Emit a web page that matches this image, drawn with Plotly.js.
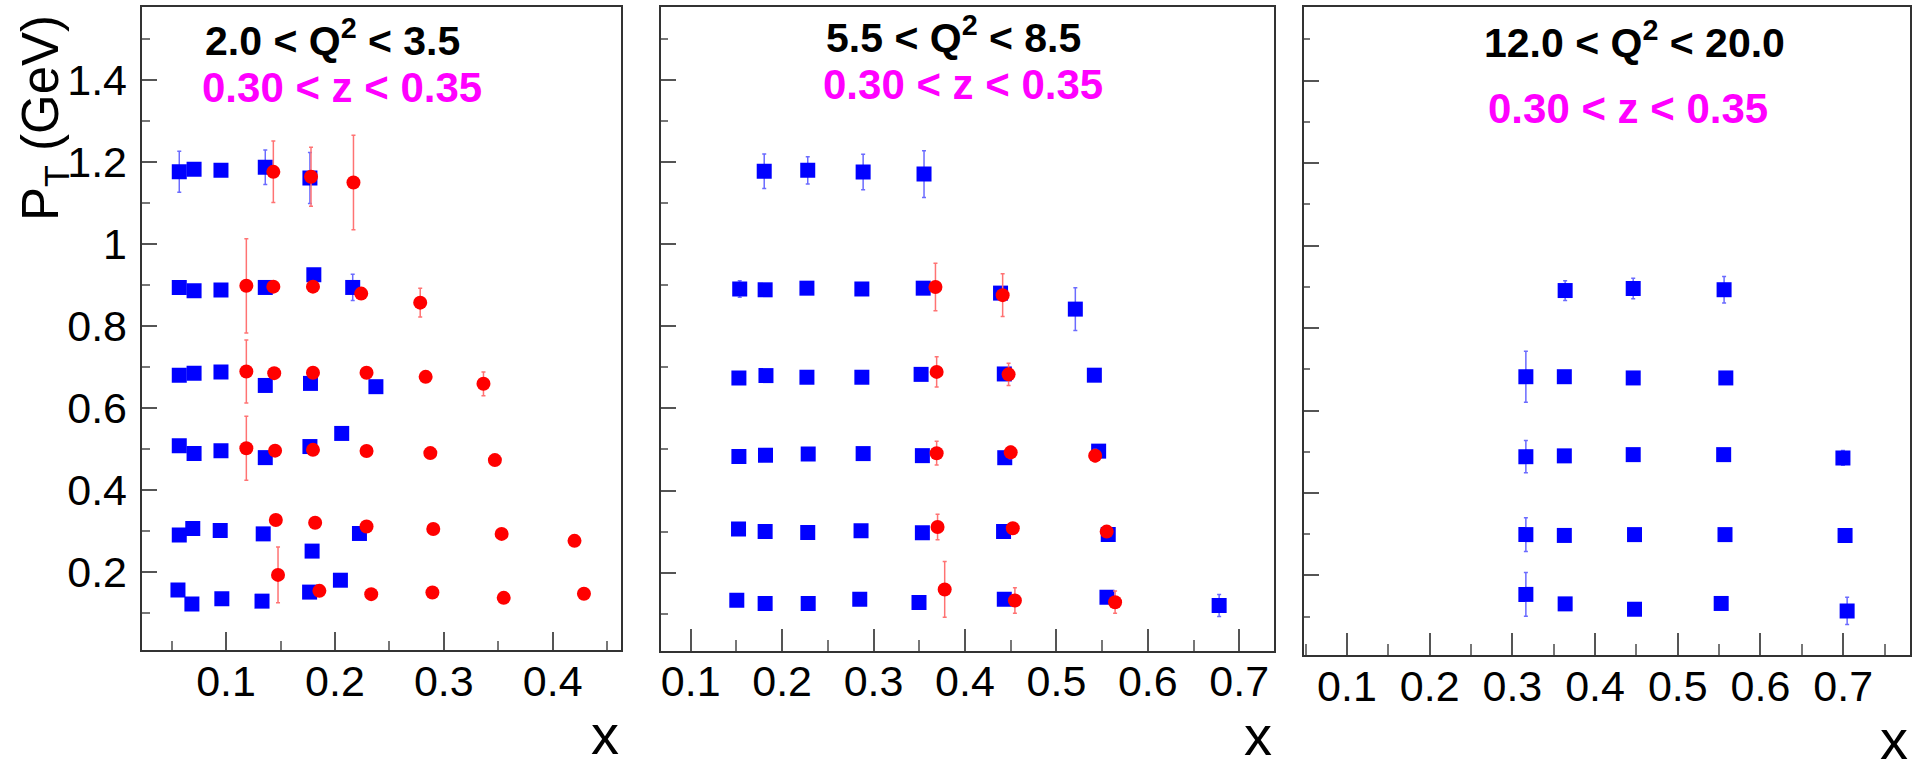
<!DOCTYPE html>
<html>
<head>
<meta charset="utf-8">
<script src="https://cdn.plot.ly/plotly-3.0.1.min.js"></script>
<style>
  body { margin: 0; background: #fff; }
  #pt-vs-x { width: 1925px; height: 775px; }
</style>
</head>
<body>
<div id="pt-vs-x"></div>
<script>
// bin 1: 2.0 < Q2 < 3.5
const q1BlueX = [0.057, 0.0706, 0.0953, 0.136, 0.177,
    0.057, 0.0706, 0.0953, 0.136, 0.1806, 0.2163,
    0.057, 0.0706, 0.0953, 0.136, 0.1775, 0.2376,
    0.057, 0.0706, 0.0953, 0.136, 0.177, 0.2062,
    0.057, 0.0694, 0.0946, 0.1341, 0.179, 0.2225,
    0.0558, 0.0686, 0.0961, 0.133, 0.1767, 0.205]
const q1BlueY = [1.176, 1.182, 1.180, 1.187, 1.161,
    0.894, 0.886, 0.888, 0.894, 0.925, 0.894,
    0.680, 0.685, 0.688, 0.655, 0.660, 0.652,
    0.508, 0.489, 0.496, 0.479, 0.506, 0.538,
    0.290, 0.306, 0.301, 0.293, 0.251, 0.294,
    0.156, 0.122, 0.135, 0.129, 0.151, 0.180]
const q1BlueErr = [0.05, 0.012, 0.01, 0.042, 0.062,
    0.01, 0.01, 0.01, 0.01, 0.012, 0.032,
    0.01, 0.01, 0.01, 0.01, 0.01, 0.01,
    0.01, 0.01, 0.01, 0.01, 0.01, 0.01,
    0.01, 0.01, 0.01, 0.01, 0.01, 0.01,
    0.01, 0.01, 0.01, 0.01, 0.01, 0.01]
const q1RedX = [0.1434, 0.178, 0.217,
    0.1186, 0.1434, 0.1798, 0.2241, 0.2783,
    0.1186, 0.1442, 0.1798, 0.229, 0.2833, 0.3364,
    0.1186, 0.145, 0.1798, 0.229, 0.2876, 0.3469,
    0.1457, 0.1818, 0.229, 0.2903, 0.3531, 0.420,
    0.1477, 0.1857, 0.2333, 0.2895, 0.355, 0.4287]
const q1RedY = [1.176, 1.164, 1.150,
    0.898, 0.896, 0.896, 0.879, 0.857,
    0.689, 0.685, 0.686, 0.686, 0.676, 0.659,
    0.502, 0.496, 0.498, 0.495, 0.490, 0.473,
    0.327, 0.320, 0.311, 0.305, 0.293, 0.276,
    0.193, 0.154, 0.146, 0.150, 0.137, 0.147]
const q1RedErr = [0.075, 0.072, 0.115,
    0.115, 0.012, 0.01, 0.01, 0.035,
    0.077, 0.01, 0.01, 0.01, 0.01, 0.029,
    0.078, 0.01, 0.01, 0.01, 0.01, 0.01,
    0.01, 0.01, 0.01, 0.01, 0.01, 0.01,
    0.068, 0.012, 0.01, 0.01, 0.01, 0.013]

// bin 2: 5.5 < Q2 < 8.5
const q2BlueX = [0.1804, 0.228, 0.2886, 0.3552,
    0.1536, 0.1814, 0.2271, 0.2872, 0.3543, 0.4389, 0.5207,
    0.1527, 0.1823, 0.2271, 0.2872, 0.352, 0.443, 0.5415,
    0.1527, 0.1818, 0.2285, 0.2886, 0.3534, 0.4435, 0.5462,
    0.1523, 0.1814, 0.228, 0.2863, 0.3534, 0.4422, 0.5567,
    0.1504, 0.1814, 0.2285, 0.2849, 0.3497, 0.443, 0.5553, 0.678]
const q2BlueY = [1.178, 1.180, 1.176, 1.171,
    0.891, 0.889, 0.893, 0.891, 0.893, 0.881, 0.842,
    0.674, 0.680, 0.676, 0.676, 0.683, 0.684, 0.681,
    0.483, 0.486, 0.489, 0.490, 0.485, 0.480, 0.496,
    0.306, 0.300, 0.298, 0.302, 0.297, 0.300, 0.293,
    0.133, 0.125, 0.125, 0.135, 0.127, 0.135, 0.140, 0.120]
const q2BlueErr = [0.042, 0.033, 0.043, 0.057,
    0.02, 0.01, 0.01, 0.01, 0.01, 0.012, 0.052,
    0.01, 0.01, 0.01, 0.01, 0.01, 0.01, 0.01,
    0.01, 0.01, 0.01, 0.01, 0.01, 0.01, 0.01,
    0.01, 0.01, 0.01, 0.01, 0.01, 0.01, 0.01,
    0.01, 0.01, 0.01, 0.01, 0.01, 0.01, 0.01, 0.027]
const q2RedX = [0.3677, 0.4412,
    0.369, 0.4477,
    0.369, 0.450, 0.5424,
    0.370, 0.4523, 0.555,
    0.3778, 0.4546, 0.5642]
const q2RedY = [0.896, 0.876,
    0.689, 0.683,
    0.491, 0.493, 0.485,
    0.311, 0.308, 0.300,
    0.159, 0.132, 0.128]
const q2RedErr = [0.058, 0.052,
    0.037, 0.027,
    0.029, 0.015, 0.015,
    0.031, 0.013, 0.014,
    0.068, 0.031, 0.027]

// bin 3: 12.0 < Q2 < 20.0
const q3BlueX = [0.3638, 0.4461, 0.556,
    0.3163, 0.3628, 0.4461, 0.5581,
    0.3163, 0.3628, 0.4461, 0.5555, 0.6997,
    0.3163, 0.3628, 0.4477, 0.5571, 0.7023,
    0.3163, 0.3638, 0.4477, 0.5525, 0.7048]
const q3BlueY = [0.891, 0.896, 0.893,
    0.682, 0.682, 0.679, 0.679,
    0.488, 0.490, 0.493, 0.493, 0.485,
    0.299, 0.297, 0.299, 0.299, 0.297,
    0.154, 0.131, 0.118, 0.132, 0.114]
const q3BlueErr = [0.024, 0.025, 0.032,
    0.062, 0.01, 0.01, 0.01,
    0.039, 0.01, 0.01, 0.01, 0.018,
    0.041, 0.01, 0.01, 0.01, 0.014,
    0.053, 0.01, 0.01, 0.01, 0.033]

const q2Labels = ['2.0 &lt; Q<sup>2</sup> &lt; 3.5', '5.5 &lt; Q<sup>2</sup> &lt; 8.5', '12.0 &lt; Q<sup>2</sup> &lt; 20.0']
const zLabel = '0.30 &lt; z &lt; 0.35'

const W = 1925, H = 775
const px = v => v / W
const py = v => 1 - v / H

function series(x, y, err, kind, axis) {
    const blue = kind === 'blue'
    return {
        type: 'scatter',
        mode: 'markers',
        x: x,
        y: y,
        xaxis: 'x' + axis,
        yaxis: 'y' + axis,
        marker: {
            symbol: blue ? 'square' : 'circle',
            size: blue ? 15 : 14,
            color: blue ? '#0000ff' : '#ff0000',
            line: {width: 0}
        },
        error_y: {
            type: 'data',
            array: err,
            visible: true,
            color: blue ? '#6b6bff' : '#ff7373',
            thickness: 1.5,
            width: 2
        },
        showlegend: false,
        hoverinfo: 'x+y'
    }
}

const data = [
    series(q1BlueX, q1BlueY, q1BlueErr, 'blue', ''),
    series(q1RedX, q1RedY, q1RedErr, 'red', ''),
    series(q2BlueX, q2BlueY, q2BlueErr, 'blue', '2'),
    series(q2RedX, q2RedY, q2RedErr, 'red', '2'),
    series(q3BlueX, q3BlueY, q3BlueErr, 'blue', '3')
]

const tickFont = {family: 'Liberation Sans, Arial, sans-serif', size: 43, color: '#000'}

function xAxis(domain, range, yref, majLen, minLen) {
    return {
        domain: domain,
        range: range,
        anchor: yref,
        dtick: 0.1,
        tick0: 0,
        ticks: 'inside',
        ticklen: majLen,
        tickwidth: 2,
        tickcolor: '#555',
        minor: {dtick: 0.05, ticks: 'inside', ticklen: minLen, tickwidth: 2, tickcolor: '#777'},
        showline: true,
        linecolor: '#333',
        linewidth: 2,
        mirror: true,
        showgrid: false,
        zeroline: false,
        tickfont: tickFont,
        ticklabelstandoff: -8
    }
}

function yAxis(domain, range, xref, labels, majLen, minLen) {
    return {
        domain: domain,
        range: range,
        anchor: xref,
        dtick: 0.2,
        tick0: 0,
        ticks: 'inside',
        ticklen: majLen,
        tickwidth: 2,
        tickcolor: '#555',
        minor: {dtick: 0.1, ticks: 'inside', ticklen: minLen, tickwidth: 2, tickcolor: '#777'},
        showline: true,
        linecolor: '#333',
        linewidth: 2,
        mirror: true,
        showgrid: false,
        zeroline: false,
        showticklabels: labels,
        tickfont: tickFont,
        ticklabelstandoff: 4
    }
}

const boldFont = (size, color) => ({family: 'Liberation Sans, Arial, sans-serif', size: size, color: color, weight: 'bold'})

function note(text, x, y, font, extra) {
    return Object.assign({
        text: text, xref: 'paper', yref: 'paper', x: px(x), y: py(y),
        xanchor: 'center', yanchor: 'middle', showarrow: false, font: font
    }, extra || {})
}

const titleFont = {family: 'Liberation Sans, Arial, sans-serif', size: 56, color: '#000'}

const layout = {
    width: W,
    height: H,
    margin: {l: 0, r: 0, t: 0, b: 0},
    paper_bgcolor: '#fff',
    plot_bgcolor: '#fff',
    xaxis: xAxis([px(141.6), px(621.2)], [0.0224, 0.4629], 'y', 18, 9),
    yaxis: yAxis([py(650), py(7)], [0.0098, 1.578], 'x', true, 15, 8),
    xaxis2: xAxis([px(661.1), px(1273.9)], [0.0676, 0.7379], 'y2', 22, 11),
    yaxis2: yAxis([py(650.7), py(7)], [0.0098, 1.578], 'x2', false, 15, 7),
    xaxis3: xAxis([px(1303.5), px(1910.4)], [0.0474, 0.7813], 'y3', 22, 11),
    yaxis3: yAxis([py(655), py(7.3)], [0.007, 1.578], 'x3', false, 15, 6),
    annotations: [
        note(q2Labels[0], 332, 38, boldFont(41, '#000')),
        note(zLabel, 342, 87, boldFont(42, '#ff00ff')),
        note(q2Labels[1], 953, 35, boldFont(41, '#000')),
        note(zLabel, 963, 85, boldFont(42, '#ff00ff')),
        note(q2Labels[2], 1634, 40, boldFont(41, '#000')),
        note(zLabel, 1628, 108, boldFont(42, '#ff00ff')),
        note('x', 621, 734, titleFont, {xanchor: 'right'}),
        note('x', 1274, 735, titleFont, {xanchor: 'right'}),
        note('x', 1910, 739, titleFont, {xanchor: 'right'}),
        note('P<sub>T</sub> (GeV)', 45, 13, {family: 'Liberation Sans, Arial, sans-serif', size: 51, color: '#000'},
            {textangle: -90, yanchor: 'top'})
    ]
}

Plotly.newPlot('pt-vs-x', data, layout, {staticPlot: true})
</script>
</body>
</html>
